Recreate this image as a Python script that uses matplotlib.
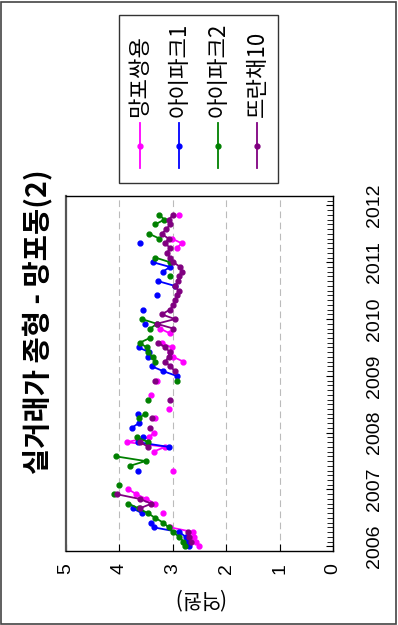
import numpy as np
import matplotlib
matplotlib.use("Agg")
import matplotlib.pyplot as plt
from matplotlib.lines import Line2D
from matplotlib.patches import Rectangle

nan = np.nan

# 월별 시세 (2006-01 ~ 2011-11), 단위: 억원
months = np.arange(71)
dates = 2006 + months / 12

mangpo_ssangyong = [2.51, 2.57, 2.60, 2.62, 3.05, nan, nan, 3.19, nan, 3.33,
                    3.50, 3.68, 3.83, nan, nan, nan, 2.99, nan, nan, nan,
                    3.36, 3.14, 3.86, 3.45, 3.35, nan, nan, 3.33, nan, 3.08,
                    nan, nan, 3.40, nan, nan, 3.30, nan, nan, nan, 2.80,
                    2.99, 3.05, 3.02, 3.21, nan, 3.06, 3.24, nan, nan, nan,
                    nan, nan, nan, nan, nan, nan, nan, nan, nan, nan,
                    nan, nan, nan, 2.93, 2.83, 3.02, nan, nan, nan, nan,
                    2.89]
ipark1 = [2.70, 2.74, 2.76, 2.88, 3.36, 3.40, nan, 3.58, 3.75, nan,
          nan, nan, nan, nan, nan, nan, 3.66, nan, nan, nan,
          nan, 3.08, 3.66, 3.55, nan, 3.77, 3.64, nan, 3.66, nan,
          nan, nan, nan, nan, nan, nan, 2.93, 3.18, 3.39, nan,
          3.47, 3.44, 3.64, nan, nan, nan, nan, 3.52, nan, nan,
          3.55, nan, nan, 3.30, nan, 2.96, 3.27, nan, 3.19, 3.05,
          3.37, nan, nan, nan, 3.61, nan, nan, nan, nan, nan,
          nan]
ipark2 = [2.77, 2.80, 2.88, 3.00, 3.08, 3.18, 3.33, 3.47, 3.64, 3.83,
          nan, 4.11, nan, 4.00, nan, nan, nan, 3.80, 3.51, 4.07,
          nan, nan, 3.46, 3.67, nan, nan, nan, 3.64, 3.52, nan,
          nan, 3.46, nan, nan, nan, 2.92, nan, nan, nan, 3.33,
          3.38, 3.46, 3.49, 3.62, 3.43, nan, 3.42, 3.30, 3.58, nan,
          nan, nan, nan, nan, nan, nan, nan, 3.06, nan, nan,
          3.05, 3.33, nan, nan, nan, 3.25, 3.44, nan, 3.33, 3.16,
          3.25]
ttrancha10 = [nan, 2.66, 2.70, 2.72, nan, nan, nan, nan, 3.62, 3.40,
              3.62, 4.05, nan, nan, nan, nan, nan, nan, nan, nan,
              nan, 3.46, 3.61, nan, nan, 3.43, nan, 3.39, nan, nan,
              nan, 3.05, nan, nan, nan, 3.33, nan, 2.96, 3.05, 3.14,
              3.08, 3.05, 3.14, 3.27, nan, nan, 2.99, 3.30, 2.96, 3.21,
              3.05, 2.99, 2.95, 2.92, 2.89, 2.96, 2.90, 2.88, 2.83, 2.86,
              2.99, 3.05, 3.11, 3.05, 3.14, 3.08, 3.21, 3.12, 3.05, 3.08,
              2.99]

names = ["망포쌍용", "아이파크1", "아이파크2", "뜨란채10"]
colors = ["#ff00ff", "#0000ff", "#008000", "#800080"]
series = [mangpo_ssangyong, ipark1, ipark2, ttrancha10]

years = [2006, 2007, 2008, 2009, 2010, 2011, 2012]
prices = [0, 1, 2, 3, 4, 5]

W, H = 398, 625
fig = plt.figure(figsize=(W / 100, H / 100), dpi=100)
kr = ["Noto Sans CJK KR", "DejaVu Sans"]
num = ["Liberation Sans", "DejaVu Sans"]

# 그림이 90도 회전된 형태: 가로축 = 가격(5 -> 0), 세로축 = 시간
ax = fig.add_axes([66 / W, 1 - 551 / H, (333 - 66) / W, (551 - 196) / H])
ax.set_xlim(5, 0)
ax.set_ylim(2005.95, 2012.12)

for vals, c in zip(series, colors):
    ax.plot(vals, dates, color=c, lw=1.3, marker="o", ms=3.5)

for p in [1, 2, 3, 4]:
    ax.axvline(p, color="#bbbbbb", lw=0.8, ls=(0, (6, 4)), zorder=0)

ax.set_xticks(prices)
ax.set_xticklabels([str(p) for p in prices], rotation=90, family=num, fontsize=14)
ax.tick_params(axis="x", direction="in", length=5, width=0.8, pad=9, top=False)

ax.yaxis.tick_right()
ax.set_yticks(years)
ax.set_yticklabels([str(y) for y in years], rotation=90, va="center", family=num, fontsize=14)
ax.set_yticks(2006 + np.arange(-1, 75) / 12, minor=True)
ax.tick_params(axis="y", which="major", direction="in", length=5, width=0.8, pad=24, left=False)
ax.tick_params(axis="y", which="minor", direction="in", length=4, width=0.6, left=False)

for s in ax.spines.values():
    s.set_linewidth(1.0)
ax.spines["left"].set_linewidth(1.6)
ax.spines["left"].set_color("#555555")

# 세로축 제목 (원본 기준), 회전된 그림에서는 뒤집혀 보임
fig.text(198 / W, 1 - 598 / H, "(억원)", rotation=180, ha="center", va="center",
         family=kr, fontsize=15)

fig.text(37 / W, 1 - 322 / H, "실거래가 종형 - 망포동(2)", rotation=90, ha="center",
         va="center", family=kr, fontsize=20.5, fontweight="bold")

# 범례
fig.add_artist(Rectangle((119 / W, 1 - 183 / H), (278 - 119) / W, (183 - 15) / H,
                         transform=fig.transFigure, fill=False, ec="#333333", lw=1.0))
for i, (n, c) in enumerate(zip(names, colors)):
    x = [140, 179, 218, 257][i] / W
    fig.add_artist(Line2D([x, x], [1 - 168 / H, 1 - 123 / H], color=c, lw=1.3,
                          transform=fig.transFigure))
    fig.add_artist(Line2D([x], [1 - 146 / H], color=c, marker="o", ms=3.5,
                          transform=fig.transFigure))
    fig.text(x, 1 - 117 / H, n, rotation=90, ha="center", va="bottom",
             family=kr, fontsize=16)

# 바깥 테두리
fig.add_artist(Rectangle((0.002, 0.002), 0.994, 0.995, transform=fig.transFigure,
                         fill=False, ec="#444444", lw=1.2))

fig.savefig("out.png", dpi=100)
